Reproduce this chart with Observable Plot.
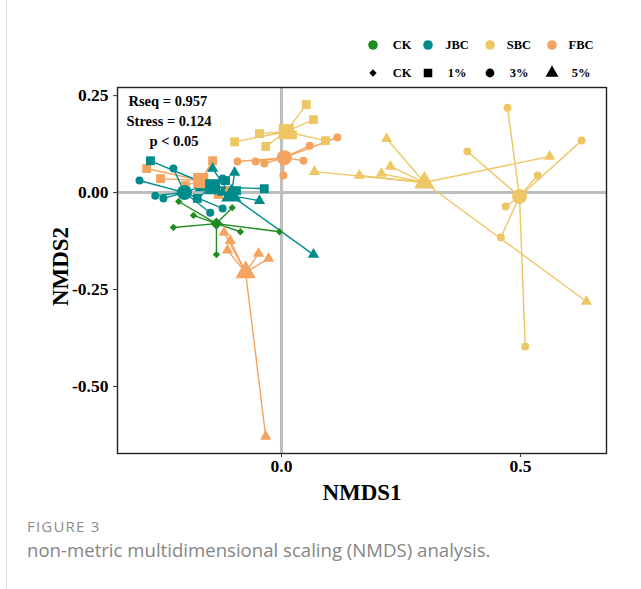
<!DOCTYPE html>
<html><head><meta charset="utf-8">
<script src="https://cdn.jsdelivr.net/npm/d3@7"></script>
<script src="https://cdn.jsdelivr.net/npm/@observablehq/plot@0.6"></script>
<style>
html,body{margin:0;padding:0;background:#fff;}
body{width:641px;height:589px;position:relative;overflow:hidden;}
#border{position:absolute;left:6px;top:0;width:1px;height:589px;background:#d9d9d9;}
#chart{position:absolute;left:0;top:0;}
#legend{position:absolute;left:0;top:0;}
#figlabel{position:absolute;left:27px;top:516px;font:15px "Open Sans";color:#8c8c8c;letter-spacing:1.2px;}
#caption{position:absolute;left:27px;top:537px;font:18.6px "Open Sans";color:#858585;}
</style></head><body>
<div id="border"></div>
<div id="chart"></div>
<div id="legend"></div>
<div id="figlabel">FIGURE 3</div>
<div id="caption">non-metric multidimensional scaling (NMDS) analysis.</div>
<script>
// ---------- data ----------
const treatments = ["CK", "JBC", "SBC", "FBC"];
const treatmentColors = ["#1e8c1e", "#008b8b", "#eec765", "#f4a460"];
const levels = ["CK", "1%", "3%", "5%"];
const statsText = ["Rseq = 0.957", "Stress = 0.124", "p < 0.05"];

// samples per group: [NMDS1, NMDS2]
const CK_CK = [[-0.215,-0.023],[-0.184,-0.059],[-0.226,-0.090],[-0.103,-0.039],[-0.086,-0.101],[-0.004,-0.101],[-0.136,-0.160]];
const JBC_1 = [[-0.274,0.082],[-0.036,0.010],[-0.176,-0.015],[-0.117,0.031],[-0.159,0.023],[-0.094,0.005]];
const JBC_3 = [[-0.297,0.031],[-0.226,0.062],[-0.264,-0.008],[-0.247,-0.015],[-0.149,-0.052],[-0.123,-0.041],[-0.123,0.036]];
const JBC_5 = [[-0.144,0.062],[-0.098,0.052],[-0.046,-0.021],[0.067,-0.160],[-0.123,0.000],[-0.170,0.012]];
const SBC_1 = [[0.052,0.227],[0.067,0.188],[0.092,0.134],[-0.046,0.152],[-0.098,0.131],[-0.033,0.119],[0.023,0.149]];
const SBC_3 = [[0.473,0.219],[0.389,0.106],[0.628,0.134],[0.536,0.044],[0.469,-0.036],[0.459,-0.116],[0.510,-0.397]];
const SBC_5 = [[0.220,0.139],[0.069,0.054],[0.163,0.044],[0.209,0.049],[0.228,0.067],[0.561,0.093],[0.638,-0.281]];
const FBC_1 = [[-0.282,0.062],[-0.144,0.082],[-0.253,0.036],[-0.132,-0.005],[-0.201,0.018],[-0.107,0.005]];
const FBC_3 = [[-0.092,0.080],[-0.054,0.080],[-0.036,0.075],[0.046,0.082],[0.059,0.121],[0.117,0.142],[0.004,0.044]];
const FBC_5 = [[-0.107,-0.124],[-0.113,-0.149],[-0.048,-0.157],[-0.027,-0.170],[-0.033,-0.629],[-0.120,-0.103]];

const groupTreatment = ["FBC","FBC","FBC","SBC","SBC","SBC","CK","JBC","JBC","JBC"];
const groupLevel     = ["1%","3%","5%","1%","3%","5%","CK","1%","3%","5%"];
const groupSamples   = [FBC_1, FBC_3, FBC_5, SBC_1, SBC_3, SBC_5, CK_CK, JBC_1, JBC_3, JBC_5];
const centroidX = [-0.169, 0.006, -0.075, 0.010, 0.498, 0.299, -0.136, -0.144, -0.203, -0.105];
const centroidY = [0.031, 0.090, -0.206, 0.157, -0.010, 0.026, -0.080, 0.015, 0.000, -0.008];

// ---------- build tables ----------
const colorOf = t => treatmentColors[treatments.indexOf(t)];
const symbols = [d3.symbolDiamond2, d3.symbolSquare, d3.symbolCircle, d3.symbolTriangle];
const smallR = {"CK": 3.3, "1%": 5, "3%": 4, "5%": 4.2};
const bigR = {"CK": 5.5, "1%": 8.5, "3%": 7.5, "5%": 7.6};

const points = [], centroids = [];
groupSamples.forEach((arr, i) => {
  const t = groupTreatment[i], lv = groupLevel[i];
  const c = {x: centroidX[i], y: centroidY[i], color: colorOf(t), level: lv, r: bigR[lv]};
  centroids.push(c);
  arr.forEach(([x, y]) => points.push({x, y, cx: c.x, cy: c.y, color: c.color, level: lv, r: smallR[lv]}));
});

const serif = "'Liberation Serif', 'Times New Roman', serif";

const chart = Plot.plot({
  width: 641, height: 505,
  marginLeft: 117, marginRight: 35, marginTop: 87, marginBottom: 52,
  style: {fontFamily: serif, fontWeight: "bold", fontSize: "17.5px", color: "black", background: "transparent"},
  x: {domain: [-0.343, 0.680]},
  y: {domain: [-0.673, 0.271]},
  color: {type: "identity"},
  r: {type: "identity"},
  symbol: {domain: levels, range: symbols},
  marks: [
    Plot.ruleX([0], {stroke: "#bebebe", strokeWidth: 3}),
    Plot.ruleY([0], {stroke: "#bebebe", strokeWidth: 3}),
    Plot.link(points, {x1: "cx", y1: "cy", x2: "x", y2: "y", stroke: "color", strokeWidth: 1.4}),
    Plot.dot(points, {x: "x", y: "y", fill: "color", symbol: "level", r: "r"}),
    Plot.dot(centroids, {x: "x", y: "y", fill: "color", symbol: "level", r: "r"}),
    Plot.frame({stroke: "#222", strokeWidth: 1.4}),
    Plot.axisX({ticks: [0, 0.5], tickFormat: d => d.toFixed(1), tickSize: 4, tickPadding: 2, label: null, stroke: "#333"}),
    Plot.axisY({ticks: [0.25, 0, -0.25, -0.5], tickFormat: d => d.toFixed(2), tickSize: 4, tickPadding: 5, label: null, stroke: "#333"}),
    Plot.text(["NMDS1"], {text: d => d, frameAnchor: "bottom", lineAnchor: "middle", dy: 39, fontSize: 23}),
    Plot.text(["NMDS2"], {text: d => d, frameAnchor: "left", textAnchor: "middle", lineAnchor: "middle", dx: -57, dy: -4, rotate: -90, fontSize: 23}),
    Plot.text([statsText[0]], {text: d => d, frameAnchor: "top-left", textAnchor: "start", lineAnchor: "middle", dx: 11, dy: 13.5, fontSize: 14.5}),
    Plot.text([statsText[1]], {text: d => d, frameAnchor: "top-left", textAnchor: "start", lineAnchor: "middle", dx: 9, dy: 33.5, fontSize: 14.5}),
    Plot.text([statsText[2]], {text: d => d, frameAnchor: "top-left", textAnchor: "start", lineAnchor: "middle", dx: 32, dy: 53.5, fontSize: 14.5})
  ]
});
document.getElementById("chart").appendChild(chart);

// ---------- legend ----------
const legendCols = [373, 428, 490, 552];
const lsvg = d3.select("#legend").append("svg").attr("width", 641).attr("height", 90)
  .style("font-family", serif).style("font-weight", "bold").style("font-size", "12.5px");
treatments.forEach((t, i) => {
  const g = lsvg.append("g").attr("transform", `translate(${legendCols[i]},45)`);
  g.append("path").attr("d", d3.symbol(d3.symbolCircle, Math.PI * 4.8 * 4.8)()).attr("fill", treatmentColors[i]);
  g.append("text").attr("x", 29).attr("y", 0).attr("dy", "0.35em").attr("text-anchor", "middle").text(t);
});
const legendSymR = [3.3, 4.8, 4.4, 4.8];
levels.forEach((lv, i) => {
  const g = lsvg.append("g").attr("transform", `translate(${legendCols[i]},73)`);
  g.append("path").attr("d", d3.symbol(symbols[i], Math.PI * legendSymR[i] * legendSymR[i])()).attr("fill", "black");
  g.append("text").attr("x", 29).attr("y", 0).attr("dy", "0.35em").attr("text-anchor", "middle").text(lv);
});
</script>
</body></html>
